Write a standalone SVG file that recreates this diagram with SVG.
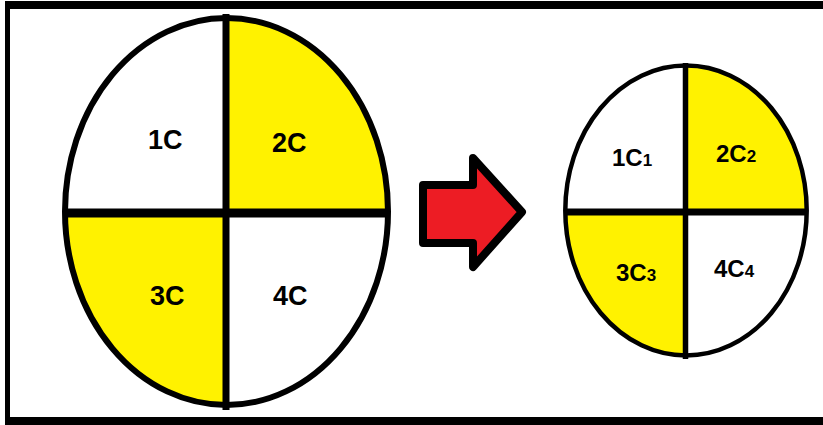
<svg xmlns="http://www.w3.org/2000/svg" width="823" height="425" viewBox="0 0 823 425">
<style>
.frame{fill:#000}
.yel{fill:#FFF200}
.ring{fill:none;stroke:#000}
.div{stroke:#000;stroke-linecap:butt}
.lbl{font-family:"Liberation Sans",Arial,sans-serif;font-weight:bold;fill:#000}
.big{font-size:27px}
.mid{font-size:24px}
.sub{font-size:17px}
</style>
<defs>
<clipPath id="clipL"><ellipse cx="226.5" cy="211.5" rx="161.5" ry="193.5"/></clipPath>
<clipPath id="clipR"><ellipse cx="686" cy="210.5" rx="120.7" ry="145"/></clipPath>
</defs>
<rect width="823" height="425" fill="#fff"/>
<g id="frame">
<rect class="frame" x="5" y="1" width="818" height="8"/>
<rect class="frame" x="5" y="1" width="5" height="424"/>
<rect class="frame" x="5" y="417" width="818" height="8"/>
</g>
<g id="circle-left">
<ellipse cx="226.5" cy="211.5" rx="161.5" ry="193.5" fill="#fff"/>
<g clip-path="url(#clipL)">
<rect class="yel" x="226" y="10" width="170" height="203"/>
<rect class="yel" x="55" y="213" width="171" height="200"/>
</g>
<ellipse class="ring" cx="226.5" cy="211.5" rx="161.5" ry="193.5" stroke-width="6"/>
<line class="div" x1="226" y1="14" x2="226" y2="410" stroke-width="7"/>
<line class="div" x1="63" y1="213" x2="390" y2="213" stroke-width="9"/>
<text class="lbl big" x="148" y="149">1C</text>
<text class="lbl big" x="272" y="152">2C</text>
<text class="lbl big" x="150" y="305">3C</text>
<text class="lbl big" x="273" y="305">4C</text>
</g>
<g id="connectors">
<path d="M423,185 L473,185 L473,158 L522,212 L473,267 L473,243 L423,243 Z" fill="#ED1C24" stroke="#000" stroke-width="8" stroke-linejoin="round"/>
</g>
<g id="circle-right">
<ellipse cx="686" cy="210.5" rx="120.7" ry="145" fill="#fff"/>
<g clip-path="url(#clipR)">
<rect class="yel" x="685.5" y="60" width="130" height="152"/>
<rect class="yel" x="560" y="212" width="125.5" height="150"/>
</g>
<ellipse class="ring" cx="686" cy="210.5" rx="120.7" ry="145" stroke-width="4.5"/>
<line class="div" x1="685.5" y1="63" x2="685.5" y2="359" stroke-width="5.5"/>
<line class="div" x1="564" y1="212" x2="808" y2="212" stroke-width="7"/>
<text class="lbl mid" x="612" y="166">1C<tspan class="sub">1</tspan></text>
<text class="lbl mid" x="716" y="162">2C<tspan class="sub">2</tspan></text>
<text class="lbl mid" x="616" y="281">3C<tspan class="sub">3</tspan></text>
<text class="lbl mid" x="714" y="277">4C<tspan class="sub">4</tspan></text>
</g>
</svg>
